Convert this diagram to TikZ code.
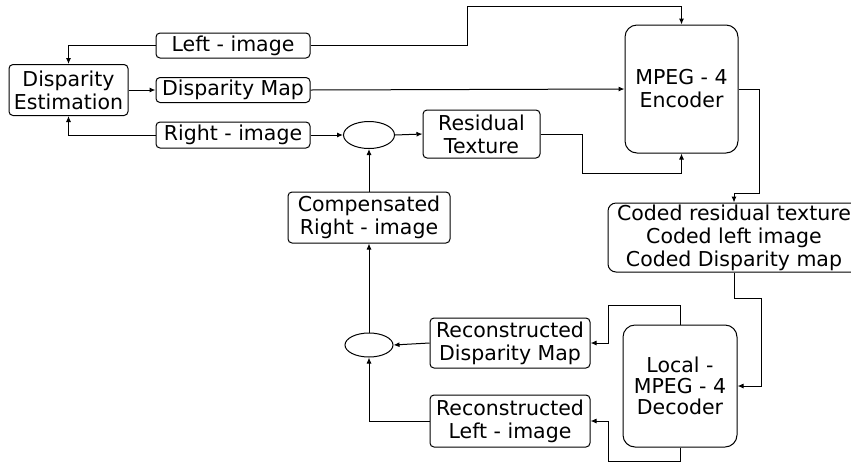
\documentclass[tikz,border=0pt]{standalone}
\usepackage{fontspec}
\setmainfont{DejaVu Sans}
\usepackage{tikz}
\usetikzlibrary{shapes.geometric, arrows.meta, positioning}

\begin{document}
\begin{tikzpicture}[
    x=1pt, y=-1pt,
    line width=1pt,
    block/.style={rectangle, rounded corners=4pt, draw=black, inner sep=1pt, align=center, font=\fontsize{20.5}{23}\selectfont},
    codec/.style={block, rounded corners=12pt},
    sumnode/.style={ellipse, draw=black, inner sep=0pt},
    arr/.style={-{Latex[length=6pt, width=5pt]}}
]
\useasboundingbox (0,0) rectangle (851,467);

% Input side
\node[block, minimum width=119pt, minimum height=51pt] (disparity) at (68.5,90) {Disparity\\Estimation};
\node[block, minimum width=154pt, minimum height=25pt] (leftimg) at (233,45.5) {Left - image};
\node[block, minimum width=154pt, minimum height=25pt] (dispmap) at (233,90) {Disparity Map};
\node[block, minimum width=154pt, minimum height=26pt] (rightimg) at (233,135) {Right - image};
\node[sumnode, minimum width=51pt, minimum height=27pt] (sumtop) at (369,135) {};
\node[block, minimum width=117pt, minimum height=48pt] (residual) at (481.5,134) {Residual\\Texture};

% Encoder and coded stream
\node[codec, minimum width=113pt, minimum height=128pt] (encoder) at (681.5,89) {MPEG - 4\\Encoder};
\node[block, rounded corners=8pt, minimum width=252pt, minimum height=69pt] (coded) at (734,237.5) {Coded residual texture\\Coded left image\\Coded Disparity map};

% Reconstruction loop
\node[block, minimum width=162pt, minimum height=51pt] (compensated) at (369,217.5) {Compensated\\Right - image};
\node[sumnode, minimum width=48pt, minimum height=24pt] (sumbot) at (369,345) {};
\node[block, minimum width=160pt, minimum height=50pt] (recmap) at (510,343) {Reconstructed\\Disparity Map};
\node[block, minimum width=160pt, minimum height=52pt] (recleft) at (510,421) {Reconstructed\\Left - image};
\node[codec, minimum width=114pt, minimum height=122pt, font=\fontsize{20.5}{21}\selectfont] (decoder) at (680,386) {Local -\\MPEG - 4\\Decoder};

% Connections
\draw[arr] (leftimg.west) -| (disparity.north);
\draw[arr] (leftimg.east) -| (467,6) -| (encoder.north);
\draw[arr] (disparity.east) -- (dispmap.west);
\draw[arr] (dispmap.east) -- (encoder.west);
\draw[arr] (rightimg.west) -| (disparity.south);
\draw[arr] (rightimg.east) -- (sumtop.west);
\draw[arr] (sumtop.east) -- (residual.west);
\draw[arr] (residual.east) -| (582,173) -| (encoder.south);
\draw[arr] (encoder.east) -| (759,193) -| (coded.north);
\draw[arr] (coded.south) |- (761,298) |- (decoder.east);
\draw[arr] (decoder.north) |- (608,305) |- (recmap.east);
\draw[arr] (decoder.south) |- (608,461) |- (recleft.east);
\draw[arr] (recmap.west) -- (sumbot.east);
\draw[arr] (recleft.west) -| (sumbot.south);
\draw[arr] (sumbot.north) -- (compensated.south);
\draw[arr] (compensated.north) -- (sumtop.south);
\end{tikzpicture}
\end{document}
